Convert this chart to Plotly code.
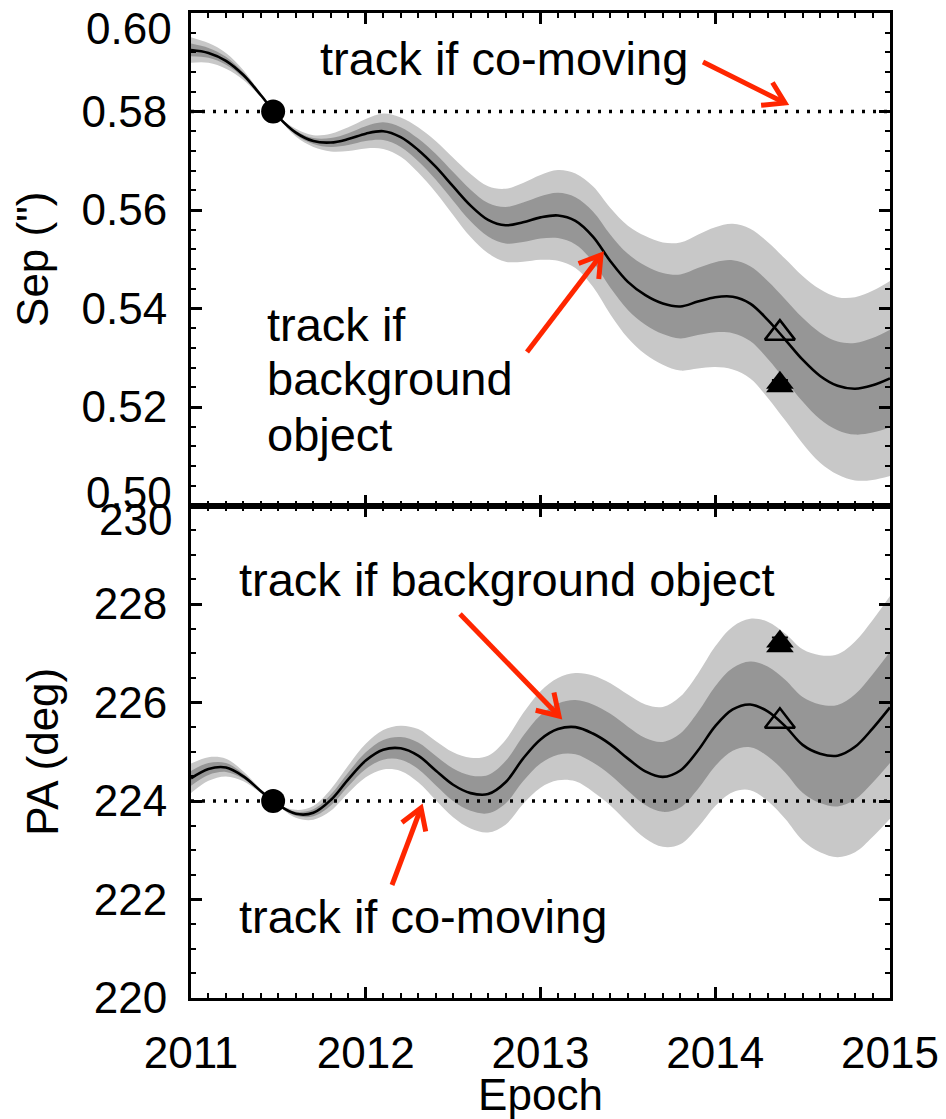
import math
import plotly.graph_objects as go

# ---------------- data ----------------
epoch = [2011.0, 2011.1, 2011.2, 2011.3, 2011.4, 2011.5, 2011.6, 2011.7, 2011.8, 2011.9,
         2012.0, 2012.1, 2012.2, 2012.3, 2012.4, 2012.5, 2012.6, 2012.7, 2012.8, 2012.9,
         2013.0, 2013.1, 2013.2, 2013.3, 2013.4, 2013.5, 2013.6, 2013.7, 2013.8, 2013.9,
         2014.0, 2014.1, 2014.2, 2014.3, 2014.4, 2014.5, 2014.6, 2014.7, 2014.8, 2014.9,
         2015.0]

sep_track = [0.5925, 0.5919, 0.5903, 0.5874, 0.5833, 0.5789, 0.5757, 0.5740, 0.5737, 0.5744,
             0.5755, 0.5760, 0.5748, 0.5722, 0.5688, 0.5648, 0.5609, 0.5580, 0.5569, 0.5575,
             0.5585, 0.5589, 0.5578, 0.5546, 0.5496, 0.5454, 0.5427, 0.5410, 0.5404, 0.5414,
             0.5423, 0.5424, 0.5410, 0.5377, 0.5337, 0.5296, 0.5263, 0.5243, 0.5237, 0.5244,
             0.5258]

sep_sigma = [0.0013, 0.0010, 0.0008, 0.0005, 0.0002, 0.0001, 0.0004, 0.0006, 0.0009, 0.0012,
             0.0015, 0.0018, 0.0020, 0.0023, 0.0026, 0.0029, 0.0032, 0.0034, 0.0037, 0.0040,
             0.0043, 0.0046, 0.0048, 0.0051, 0.0054, 0.0057, 0.0060, 0.0062, 0.0065, 0.0068,
             0.0071, 0.0074, 0.0076, 0.0079, 0.0082, 0.0085, 0.0088, 0.0090, 0.0093, 0.0096,
             0.0099]

pa_track = [224.46, 224.65, 224.68, 224.50, 224.20, 223.92, 223.74, 223.76, 224.02, 224.44,
            224.82, 225.04, 225.07, 224.92, 224.62, 224.33, 224.16, 224.14, 224.38, 224.86,
            225.25, 225.46, 225.50, 225.37, 225.15, 224.86, 224.60, 224.49, 224.62, 225.02,
            225.52, 225.86, 225.96, 225.82, 225.52, 225.14, 224.96, 224.92, 225.10, 225.47,
            225.90]

pa_sigma = [0.15, 0.12, 0.09, 0.05, 0.02, 0.01, 0.04, 0.07, 0.11, 0.14,
            0.17, 0.20, 0.23, 0.27, 0.30, 0.33, 0.36, 0.39, 0.43, 0.46,
            0.49, 0.52, 0.55, 0.59, 0.62, 0.65, 0.68, 0.71, 0.75, 0.78,
            0.81, 0.84, 0.87, 0.91, 0.94, 0.97, 1.00, 1.03, 1.07, 1.10,
            1.13]

ref_epoch = [2011.47]
ref_sep = [0.580]
ref_pa = [224.0]

comoving_epoch = [2011.0, 2015.0]

obs_epoch = [2014.37, 2014.37]
obs_sep = [0.5242, 0.5249]
obs_sep_err = [0.0006, 0.0006]
obs_pa = [227.14, 227.24]
obs_pa_err = [0.08, 0.08]

pred_epoch = [2014.37]
pred_sep = [0.535]
pred_pa = [225.62]

sep_ticks = [0.50, 0.52, 0.54, 0.56, 0.58, 0.60]
sep_ticklabels = ["", "0.52", "0.54", "0.56", "0.58", ""]
pa_ticks = [220, 222, 224, 226, 228, 230]
pa_ticklabels = ["220", "222", "224", "226", "228", ""]
year_ticks = [2011, 2012, 2013, 2014, 2015]
year_ticklabels = ["2011", "2012", "2013", "2014", "2015"]

# ---------------- styling ----------------
FONT = "Liberation Sans, Arial, Helvetica, sans-serif"
LIGHT = "rgb(200,200,200)"
DARK = "rgb(150,150,150)"
RED = "rgb(255,38,0)"

OFF = 8                      # page body margin of the html page
W, H = 946 - OFF, 1119 - OFF
L, R, T, B = 191, 890, 13, 998   # plot area in screen pixels

fig = go.Figure()


def bands(track, sigma, xa, ya):
    up2 = [t + 2 * s for t, s in zip(track, sigma)]
    lo2 = [t - 2 * s for t, s in zip(track, sigma)]
    up1 = [t + s for t, s in zip(track, sigma)]
    lo1 = [t - s for t, s in zip(track, sigma)]
    common = dict(xaxis=xa, yaxis=ya, mode="lines", showlegend=False, hoverinfo="skip")
    fig.add_trace(go.Scatter(x=epoch, y=up2, line=dict(width=0, shape="spline", color=LIGHT), **common))
    fig.add_trace(go.Scatter(x=epoch, y=lo2, fill="tonexty", fillcolor=LIGHT,
                             line=dict(width=0, shape="spline", color=LIGHT), **common))
    fig.add_trace(go.Scatter(x=epoch, y=up1, line=dict(width=0, shape="spline", color=DARK), **common))
    fig.add_trace(go.Scatter(x=epoch, y=lo1, fill="tonexty", fillcolor=DARK,
                             line=dict(width=0, shape="spline", color=DARK), **common))
    fig.add_trace(go.Scatter(x=epoch, y=track, line=dict(width=2.6, shape="spline", color="black"), **common))


def points(ref_y, pred_y, obs_y, obs_err, xa, ya):
    fig.add_trace(go.Scatter(x=comoving_epoch, y=ref_y * 2, xaxis=xa, yaxis=ya, mode="lines",
                             line=dict(color="black", width=3.5, dash="3px,8px"),
                             showlegend=False, hoverinfo="skip"))
    fig.add_trace(go.Scatter(x=ref_epoch, y=ref_y, xaxis=xa, yaxis=ya, mode="markers",
                             marker=dict(symbol="circle", size=24, color="black"),
                             showlegend=False))
    fig.add_trace(go.Scatter(x=pred_epoch, y=pred_y, xaxis=xa, yaxis=ya, mode="markers",
                             marker=dict(symbol="triangle-up-open", size=26, color="black",
                                         line=dict(width=2.5, color="black")),
                             showlegend=False))
    fig.add_trace(go.Scatter(x=obs_epoch, y=obs_y, xaxis=xa, yaxis=ya, mode="markers",
                             marker=dict(symbol="triangle-up", size=24, color="black"),
                             error_y=dict(type="data", array=obs_err, color="black",
                                          thickness=2, width=8),
                             showlegend=False))


bands(sep_track, sep_sigma, "x2", "y2")
points(ref_sep, pred_sep, obs_sep, obs_sep_err, "x2", "y2")
bands(pa_track, pa_sigma, "x", "y")
points(ref_pa, pred_pa, obs_pa, obs_pa_err, "x", "y")

axis_common = dict(
    showline=True, linecolor="black", linewidth=3, mirror="allticks",
    ticks="inside", ticklen=11, tickwidth=2.5, tickcolor="black",
    showgrid=False, zeroline=False, automargin=False, ticklabeloverflow="allow",
    tickfont=dict(family=FONT, size=44, color="black"),
)
minor_x = dict(dtick=0.1, tick0=2011, ticks="inside", ticklen=5, tickwidth=2, tickcolor="black")

fig.update_layout(
    width=W, height=H,
    margin=dict(l=L - OFF, r=(OFF + W) - R, t=T - OFF, b=(OFF + H) - B, pad=0),
    paper_bgcolor="white", plot_bgcolor="white",
    font=dict(family=FONT, color="black"),
    xaxis=dict(domain=[0, 1], anchor="y", range=[2011, 2015],
               tickmode="array", tickvals=year_ticks, ticktext=year_ticklabels,
               ticklabelstandoff=14, minor=minor_x,
               title=dict(text="Epoch", font=dict(family=FONT, size=44, color="black"), standoff=8),
               **axis_common),
    xaxis2=dict(domain=[0, 1], anchor="y2", range=[2011, 2015],
                tickmode="array", tickvals=year_ticks, ticktext=year_ticklabels,
                matches="x", showticklabels=False, minor=minor_x,
                **axis_common),
    yaxis=dict(domain=[0, 0.5], anchor="x", range=[220, 230],
               tickmode="array", tickvals=pa_ticks, ticktext=pa_ticklabels,
               ticklabelstandoff=12,
               minor=dict(dtick=0.5, tick0=220, ticks="inside", ticklen=5, tickwidth=2, tickcolor="black"),
               title=dict(text="PA (deg)", font=dict(family=FONT, size=44, color="black"), standoff=22),
               **axis_common),
    yaxis2=dict(domain=[0.5, 1], anchor="x2", range=[0.5, 0.6],
                tickmode="array", tickvals=sep_ticks, ticktext=sep_ticklabels,
                ticklabelstandoff=12,
                minor=dict(dtick=0.004, tick0=0.5, ticks="inside", ticklen=5, tickwidth=2, tickcolor="black"),
                title=dict(text='Sep (")', font=dict(family=FONT, size=44, color="black"), standoff=22),
                **axis_common),
)


# ---------------- annotations (positioned in screen pixels) ----------------
def px(xp):
    return (xp - L) / (R - L)


def py(yp):
    return 1 - (yp - T) / (B - T)


def text(s, x, y, anchor="left", size=47):
    fig.add_annotation(text=s, x=px(x), y=py(y), xref="paper", yref="paper",
                       xanchor=anchor, yanchor="middle", showarrow=False,
                       font=dict(family=FONT, size=size, color="black"))


# end tick labels that sit off their ticks in the reference
text("0.60", 174, 28, anchor="right", size=44)
text("0.50", 174, 492, anchor="right", size=44)
text("230", 174, 519, anchor="right", size=44)

text("track if co-moving", 318, 58)
text("track if", 265, 324)
text("background", 265, 379)
text("object", 265, 434)
text("track if background object", 237, 579)
text("track if co-moving", 237, 916)


def arrow(tail, tip, head=24, ang=32):
    sx, sy = tail
    tx, ty = tip
    dx, dy = tx - sx, ty - sy
    n = math.hypot(dx, dy)
    ux, uy = dx / n, dy / n
    pts = []
    for a in (ang, -ang):
        r = math.radians(a)
        rx = ux * math.cos(r) - uy * math.sin(r)
        ry = ux * math.sin(r) + uy * math.cos(r)
        pts.append((tx - head * rx, ty - head * ry))
    line = dict(color=RED, width=5)
    fig.add_shape(type="path", xref="paper", yref="paper", line=line,
                  path=f"M {px(sx)},{py(sy)} L {px(tx)},{py(ty)}")
    fig.add_shape(type="path", xref="paper", yref="paper", line=line,
                  path=(f"M {px(pts[0][0])},{py(pts[0][1])} L {px(tx)},{py(ty)} "
                        f"L {px(pts[1][0])},{py(pts[1][1])}"))


arrow((703, 62), (785, 103))
arrow((527, 352), (601, 255))
arrow((460, 614), (559, 716))
arrow((392, 885), (421, 808))

fig.write_html("out.html")
